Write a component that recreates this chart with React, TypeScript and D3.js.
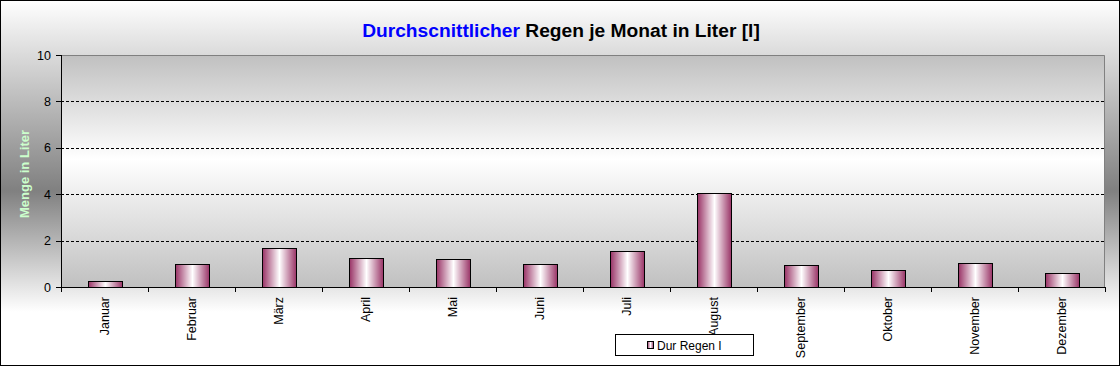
import * as d3 from "d3";

const months = [
  "Januar", "Februar", "März", "April", "Mai", "Juni",
  "Juli", "August", "September", "Oktober", "November", "Dezember",
];
const rain = [0.26, 0.99, 1.67, 1.25, 1.2, 0.99, 1.55, 4.04, 0.94, 0.73, 1.03, 0.59];
const yTicks = [0, 2, 4, 6, 8, 10];
const seriesName = "Dur Regen I";

const W = 1120;
const H = 367;
const plot = { left: 61, right: 1105, top: 55, bottom: 287 };
const font = "Arial, 'Liberation Sans', sans-serif";

export default function App() {
  const x = d3
    .scaleBand<string>()
    .domain(months)
    .range([plot.left, plot.right])
    .padding(0);

  const y = d3.scaleLinear().domain([0, 10]).range([plot.bottom, plot.top]);

  const barW = x.bandwidth() * 0.39;

  // boundaries between categories for the tick marks
  const boundaries = months.map((m) => x(m)!).concat(plot.right);

  return (
    <>
      <style>{`body{margin:0}`}</style>
      <svg width={W} height={H} style={{ display: "block", fontFamily: font }}>
        <defs>
          <linearGradient id="outerBg" x1="0" y1="0" x2="0" y2="1">
            <stop offset="0" stopColor="#ffffff" />
            <stop offset="0.52" stopColor="#808080" />
            <stop offset="0.85" stopColor="#ffffff" />
            <stop offset="1" stopColor="#ffffff" />
          </linearGradient>
          <linearGradient id="plotBg" x1="0" y1="0" x2="0" y2="1">
            <stop offset="0" stopColor="#c0c0c0" />
            <stop offset="0.45" stopColor="#ffffff" />
            <stop offset="1" stopColor="#c0c0c0" />
          </linearGradient>
          <linearGradient id="barFill" x1="0" y1="0" x2="1" y2="0">
            <stop offset="0" stopColor="#993366" />
            <stop offset="0.5" stopColor="#ffffff" />
            <stop offset="1" stopColor="#993366" />
          </linearGradient>
        </defs>

        {/* chart background */}
        <rect x={0} y={0} width={W} height={H} fill="url(#outerBg)" />
        <rect x={0.5} y={0.5} width={W - 1} height={H - 2} fill="none" stroke="#000" />

        {/* plot area */}
        <rect
          x={plot.left}
          y={plot.top}
          width={plot.right - plot.left}
          height={plot.bottom - plot.top}
          fill="url(#plotBg)"
        />
        <path
          d={`M${plot.left},${plot.top + 0.5}H${plot.right - 0.5}V${plot.bottom}`}
          fill="none"
          stroke="#808080"
        />

        {/* grid lines */}
        {yTicks
          .filter((t) => t > 0 && t < 10)
          .map((t) => (
            <line
              key={t}
              x1={plot.left}
              x2={plot.right - 1}
              y1={Math.round(y(t)) + 0.5}
              y2={Math.round(y(t)) + 0.5}
              stroke="#000"
              strokeDasharray="3,2"
            />
          ))}

        {/* bars */}
        {months.map((m, i) => {
          const cx = x(m)! + x.bandwidth() / 2;
          return (
            <rect
              key={m}
              x={Math.round(cx - barW / 2) + 0.5}
              y={Math.round(y(rain[i])) + 0.5}
              width={Math.round(barW)}
              height={Math.round(y(0)) - Math.round(y(rain[i]))}
              fill="url(#barFill)"
              stroke="#000"
            />
          );
        })}

        {/* y axis */}
        <line
          x1={plot.left + 0.5}
          x2={plot.left + 0.5}
          y1={plot.top}
          y2={plot.bottom}
          stroke="#000"
        />
        {yTicks.map((t) => (
          <g key={t}>
            <line
              x1={plot.left - 5}
              x2={plot.left}
              y1={Math.round(y(t)) + 0.5}
              y2={Math.round(y(t)) + 0.5}
              stroke="#000"
            />
            <text
              x={plot.left - 10}
              y={y(t)}
              dy="0.36em"
              textAnchor="end"
              fontSize={12.5}
              fill="#000"
            >
              {t}
            </text>
          </g>
        ))}
        <text
          transform={`translate(24,${(plot.top + plot.bottom) / 2 + 3}) rotate(-90)`}
          textAnchor="middle"
          dy="0.36em"
          fontSize={13}
          fontWeight="bold"
          fill="#ccffcc"
        >
          Menge in Liter
        </text>

        {/* x axis */}
        <line
          x1={plot.left}
          x2={plot.right}
          y1={plot.bottom + 0.5}
          y2={plot.bottom + 0.5}
          stroke="#000"
        />
        {boundaries.map((b, i) => (
          <line
            key={i}
            x1={Math.round(b) + 0.5}
            x2={Math.round(b) + 0.5}
            y1={plot.bottom}
            y2={plot.bottom + 5}
            stroke="#000"
          />
        ))}
        {months.map((m) => (
          <text
            key={m}
            transform={`translate(${x(m)! + x.bandwidth() / 2},${plot.bottom + 10}) rotate(-90)`}
            textAnchor="end"
            dy="0.36em"
            fontSize={12.5}
            fill="#000"
          >
            {m}
          </text>
        ))}

        {/* title */}
        <text x={561} y={37} textAnchor="middle" fontSize={19.2} fontWeight="bold">
          <tspan fill="#0000ff">Durchscnittlicher</tspan>
          <tspan fill="#000"> Regen je Monat in Liter [l]</tspan>
        </text>

        {/* legend */}
        <rect x={615.5} y={334.5} width={138} height={21} fill="#fff" stroke="#000" />
        <rect x={647.5} y={341.5} width={6} height={7} fill="url(#barFill)" stroke="#000" />
        <text x={657} y={349.5} fontSize={12} fill="#000">
          {seriesName}
        </text>
      </svg>
    </>
  );
}
